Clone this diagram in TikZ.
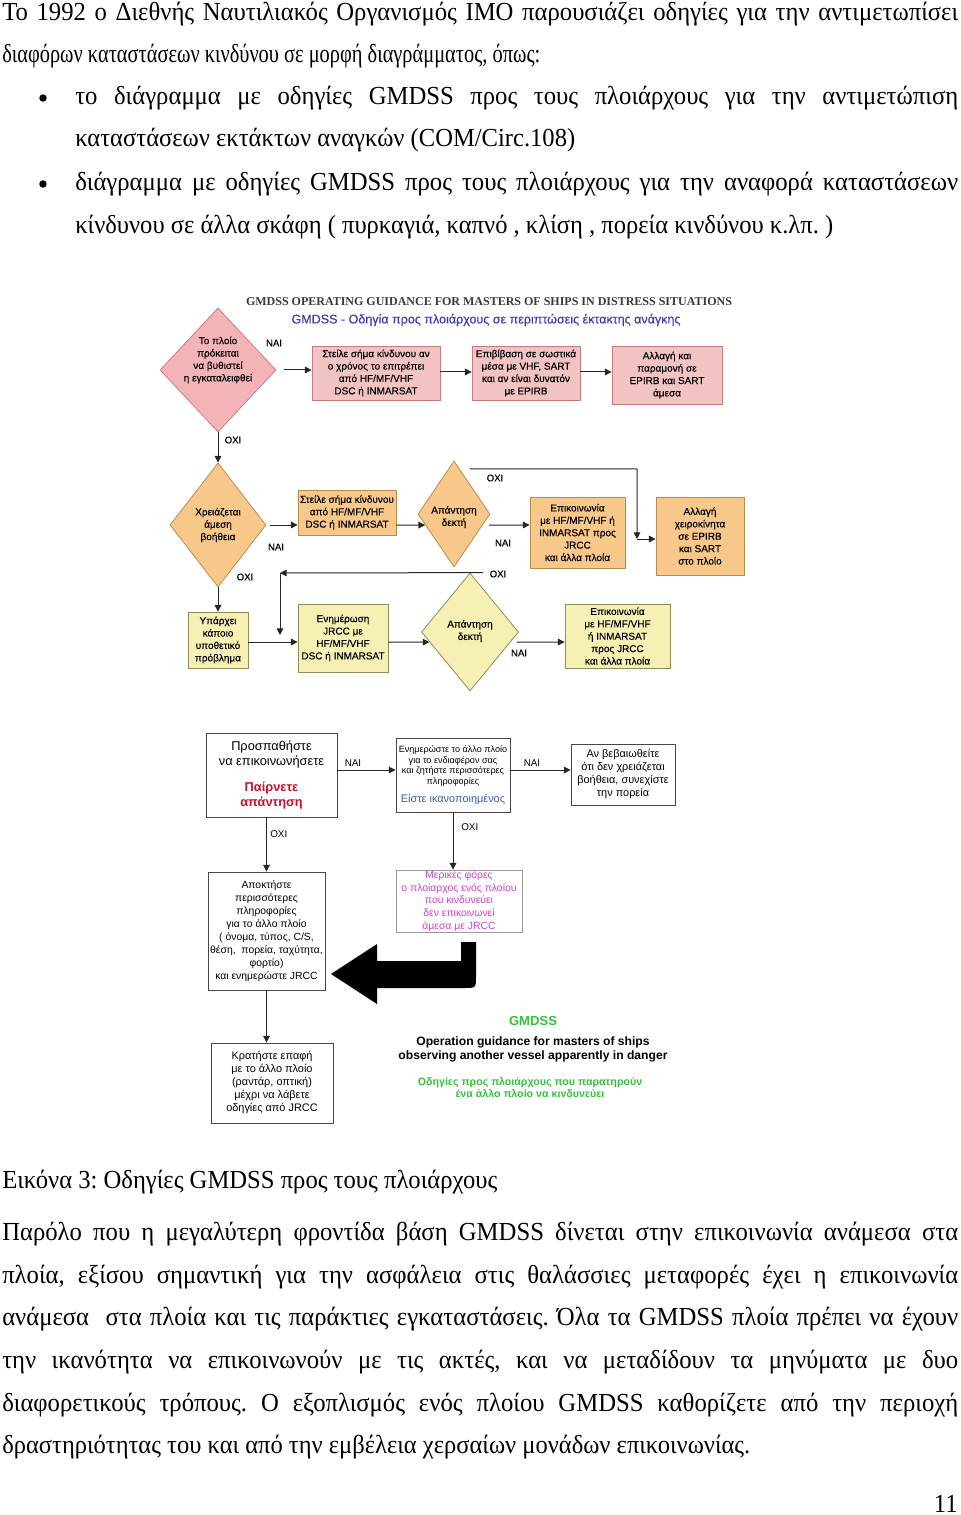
\documentclass[tikz,border=0pt]{standalone}
\usepackage{graphicx}
\usepackage{fontspec}
\setmainfont{Liberation Serif}
\newfontfamily\bodyfont[FakeStretch=0.95]{Liberation Serif}
\newfontfamily\dsans{Liberation Sans}
\newfontfamily\dsansm[FakeBold=0.35]{Liberation Sans}
\newfontfamily\dserif{Liberation Serif}
\usetikzlibrary{shapes.geometric,arrows.meta,calc}
\definecolor{pkd}{HTML}{F4B3B6}
\definecolor{pkb}{HTML}{F2C3C3}
\definecolor{pkl}{HTML}{C97C7C}
\definecolor{ord}{HTML}{F8C78A}
\definecolor{orl}{HTML}{B98C4E}
\definecolor{yld}{HTML}{F6F0B5}
\definecolor{yll}{HTML}{8F8C5A}
\definecolor{ttl}{HTML}{3A3A3A}
\definecolor{sub}{HTML}{3C3CB8}
\definecolor{pred}{HTML}{C8102E}
\definecolor{pblue}{HTML}{3A5BA8}
\definecolor{pmag}{HTML}{D23CD6}
\definecolor{pgreen}{HTML}{35C23A}
\definecolor{lin}{HTML}{262626}
\newcommand\jl[2]{\makebox[#1][s]{#2}}
\newcommand\rz[2]{\resizebox{#1}{\height}{#2}}
\newcommand\rb[1]{\textcolor{pred}{\bfseries #1}}
\frenchspacing
\begin{document}
\begin{tikzpicture}[x=0.75pt,y=-0.75pt,
  body/.style={anchor=base west, inner sep=0, font=\bodyfont\fontsize{19.5pt}{24pt}\selectfont\frenchspacing},
  dot/.style={circle, fill=black, inner sep=0, minimum size=5.6pt},
  dg/.style={font=\dsansm\fontsize{7.5pt}{9.3pt}\selectfont, align=center, inner sep=0},
  lab/.style={font=\dsansm\fontsize{7.2pt}{8pt}\selectfont, inner sep=0},
  blab/.style={font=\dsans\fontsize{7.4pt}{8pt}\selectfont, inner sep=0},
  pbox/.style={dg, draw=pkl, fill=pkb, line width=0.6pt},
  obox/.style={dg, draw=orl, fill=ord, line width=0.6pt},
  ybox/.style={dg, draw=yll, fill=yld, line width=0.6pt},
  pdiam/.style={diamond, draw=pkl, fill=pkd, line width=0.6pt, inner sep=0},
  odiam/.style={diamond, draw=orl, fill=ord, line width=0.6pt, inner sep=0},
  ydiam/.style={diamond, draw=yll, fill=yld, line width=0.6pt, inner sep=0},
  wbox/.style={draw=lin!85, line width=0.7pt, fill=white, align=center, inner sep=0},
  arr/.style={draw=lin, line width=0.75pt, -{Triangle[length=5pt,width=5pt]}},
  ln/.style={draw=lin, line width=0.75pt}]
\useasboundingbox (0,0) rectangle (960,1515);

% ---------- text above ----------
\node[body] (t1) at (2,21) {\jl{717pt}{Το 1992 ο Διεθνής Ναυτιλιακός Οργανισμός IMO παρουσιάζει οδηγίες για την αντιμετωπίσει}};
\node[body] (t2) at (2,63) {\rz{403.5pt}{διαφόρων καταστάσεων κινδύνου σε μορφή διαγράμματος, όπως:}};
\node[dot] (bu1) at (43,98) {};
\node[body] (t3) at (75,105) {\jl{662.25pt}{το διάγραμμα με οδηγίες GMDSS προς τους πλοιάρχους για την αντιμετώπιση}};
\node[body] (t4) at (75,147) {\rz{375pt}{καταστάσεων εκτάκτων αναγκών (COM/Circ.108)}};
\node[dot] (bu2) at (43,184) {};
\node[body] (t5) at (75,191) {\jl{662.25pt}{διάγραμμα με οδηγίες GMDSS προς τους πλοιάρχους για την αναφορά καταστάσεων}};
\node[body] (t6) at (75,234) {\rz{568.5pt}{κίνδυνου σε άλλα σκάφη ( πυρκαγιά, καπνό , κλίση , πορεία κινδύνου κ.λπ. )}};

% ---------- diagram 1 ----------
\node[font=\dserif\bfseries\fontsize{9pt}{10pt}\selectfont, text=ttl, inner sep=0] (ti1) at (489,302) {GMDSS OPERATING GUIDANCE FOR MASTERS OF SHIPS IN DISTRESS SITUATIONS};
\node[font=\dsansm\fontsize{9.4pt}{10pt}\selectfont, text=sub, inner sep=0] (ti2) at (486,320) {GMDSS - Οδηγία προς πλοιάρχους σε περιπτώσεις έκτακτης ανάγκης};

\node[pdiam, minimum width=87pt, minimum height=93pt] (d1) at (218,370) {};
\node[dg] (d1t) at (218,360) {Το πλοίο\\πρόκειται\\να βυθιστεί\\η εγκαταλειφθεί};
\node[pbox, minimum width=96pt, minimum height=40.5pt] (b1) at (376,373) {Στείλε σήμα κίνδυνου αν\\ο χρόνος το επιτρέπει\\από HF/MF/VHF\\DSC ή INMARSAT};
\node[pbox, minimum width=81pt, minimum height=40.5pt] (b2) at (526,373) {Επιβίβαση σε σωστικά\\μέσα με VHF, SART\\και αν είναι δυνατόν\\με EPIRB};
\node[pbox, minimum width=82.5pt, minimum height=43.5pt] (b3) at (667,375) {Αλλαγή και\\παραμονή σε\\EPIRB και SART\\άμεσα};
\coordinate (r1) at (0,372);
\draw[arr] ($(d1.east)+(8,0)$) -- (b1.west |- d1.east);
\draw[arr] (b1.east |- r1) -- (b2.west |- r1);
\draw[arr] (b2.east |- r1) -- (b3.west |- r1);
\node[lab] (n1) at (274,343) {ΝΑΙ};

\node[odiam, minimum width=72pt, minimum height=93pt] (d2) at (218,525) {};
\node[dg] (d2t) at (218,525) {Χρειάζεται\\άμεση\\βοήθεια};
\draw[arr] (d1.south) -- (d2.north);
\node[lab] (o1) at (233,440) {ΟΧΙ};

\node[obox, minimum width=73.5pt, minimum height=33.75pt] (b4) at (347,512.5) {Στείλε σήμα κίνδυνου\\από HF/MF/VHF\\DSC ή INMARSAT};
\node[odiam, minimum width=54pt, minimum height=79.5pt] (d3) at (454,514) {};
\node[dg] (d3t) at (454,517) {Απάντηση\\δεκτή};
\node[obox, minimum width=71.25pt, minimum height=53.25pt] (b5) at (577.5,532.5) {Επικοινωνία\\με HF/MF/VHF ή\\INMARSAT προς\\JRCC\\και άλλα πλοία};
\node[obox, minimum width=66pt, minimum height=58.5pt] (b6) at (700,536) {Αλλαγή\\χειροκίνητα\\σε EPIRB\\και SART\\στο πλοίο};
\draw[arr] ($(d2.east)+(4,0)$) -- (b4.west |- d2.east);
\draw[arr] (b4.east |- d2.east) -- (d3.201);
\draw[arr] ($(d3.-21)+(6,0)$) -- (b5.west |- d2.east);
\node[lab] (n2) at (276,547) {ΝΑΙ};
\node[lab] (n3) at (503,543) {ΝΑΙ};
\coordinate (k1) at (637,469);
\coordinate (k2) at (637,539);
\draw[arr] ($(d3.83)+(10,0)$) -- (k1) -- (k2);
\draw[arr] (k2) -- (b6.west |- k2);
\node[lab] (o2) at (495,478) {ΟΧΙ};
\node[lab] (o3) at (245,577) {ΟΧΙ};

\node[ydiam, minimum width=72.75pt, minimum height=88.5pt] (d4) at (470,632) {};
\node[dg] (d4t) at (470,631) {Απάντηση\\δεκτή};
\node[ybox, minimum width=45pt, minimum height=42pt] (b7) at (218,640) {Υπάρχει\\κάποιο\\υποθετικό\\πρόβλημα};
\node[ybox, minimum width=67.5pt, minimum height=51pt] (b8) at (343,638) {Ενημέρωση\\JRCC με\\HF/MF/VHF\\DSC ή INMARSAT};
\node[ybox, minimum width=78.75pt, minimum height=48pt] (b9) at (617.5,636) {Επικοινωνία\\με HF/MF/VHF\\ή INMARSAT\\προς JRCC\\και άλλα πλοία};
\draw[arr] (d2.south) -- (b7.north);
\coordinate (r3) at (0,642);
\draw[arr] (b7.east |- r3) -- (b8.west |- r3);
\draw[arr] (b8.east |- r3) -- (d4.194);
\draw[arr] ($(d4.-14)+(6,0)$) -- (b9.west |- r3);
\node[lab] (n4) at (519,653) {ΝΑΙ};
\coordinate (k3) at (280,573);
\coordinate (k4) at (280,635);
\draw[arr] ($(d4.north)+(13,0)$) -- (k3);
\draw[arr] (k3) -- (k4);
\node[lab] (o4) at (498,574) {ΟΧΙ};

% ---------- diagram 2 ----------
\node[wbox, minimum width=98.25pt, minimum height=63pt, font=\dsans\fontsize{9.6pt}{11.2pt}\selectfont] (A) at (271.5,775) {Προσπαθήστε\\να επικοινωνήσετε\\[9pt]\rb{Παίρνετε}\\\rb{απάντηση}};
\node[wbox, minimum width=85.5pt, minimum height=55.5pt, font=\dsans\fontsize{6.8pt}{8.2pt}\selectfont] (B) at (453,775) {Ενημερώστε το άλλο πλοίο\\για το ενδιαφέρον σας\\και ζητήστε περισσότερες\\πληροφορίες\\[5pt]\textcolor{pblue}{\fontsize{8.2pt}{9pt}\selectfont Είστε ικανοποιημένος}};
\node[wbox, minimum width=78pt, minimum height=45.75pt, font=\dsans\fontsize{8.2pt}{9.75pt}\selectfont] (C) at (623,774.5) {Αν βεβαιωθείτε\\ότι δεν χρειάζεται\\βοήθεια, συνεχίστε\\την πορεία};
\coordinate (r4) at (0,770);
\draw[arr] (A.east |- r4) -- (B.west |- r4);
\draw[arr] (B.east |- r4) -- (C.west |- r4);
\node[blab] (n5) at (353,763) {ΝΑΙ};
\node[blab] (n6) at (532,763) {ΝΑΙ};

\node[wbox, minimum width=87.75pt, minimum height=88.5pt, font=\dsans\fontsize{7.8pt}{9.7pt}\selectfont] (D) at (266.5,931) {Αποκτήστε\\περισσότερες\\πληροφορίες\\για το άλλο πλοίο\\( όνομα, τύπος, C/S,\\θέση,\ \ πορεία, ταχύτητα,\\φορτίο)\\και ενημερώστε JRCC};
\node[draw=black!40, line width=0.6pt, fill=white, align=center, inner sep=0, minimum width=94.5pt, minimum height=46.5pt, text=pmag, font=\dsans\fontsize{7.8pt}{9.6pt}\selectfont] (E) at (459,901) {Μερικές φόρες\\ο πλοίαρχος ενός πλοίου\\που κινδυνεύει\\δεν επικοινωνεί\\άμεσα με JRCC};
\draw[arr] (A.south -| D.north) -- (D.north);
\draw[arr] (B.south) -- (B.south |- E.north);
\node[blab, anchor=west] (o5) at (270,834) {ΟΧΙ};
\node[blab, anchor=west] (o6) at (461,827) {ΟΧΙ};

\fill[black] (461,942) -- (476,942) -- (476,976) .. controls (476,988) .. (464,988) -- (377,988) -- (377,1004) -- (331,974) -- (377,944) -- (377,961) -- (461,961) -- cycle;

\node[wbox, minimum width=91.5pt, minimum height=60pt, font=\dsans\fontsize{8.2pt}{9.75pt}\selectfont] (F) at (272,1083) {Κρατήστε επαφή\\με το άλλο πλοίο\\(ραντάρ, οπτική)\\μέχρι να λάβετε\\οδηγίες από JRCC};
\draw[arr] (D.south) -- (D.south |- F.north);

\node[font=\dsans\bfseries\fontsize{9.8pt}{11pt}\selectfont, text=pgreen, inner sep=0] (g1) at (533,1021) {GMDSS};
\node[font=\dsans\bfseries\fontsize{9.1pt}{10.5pt}\selectfont, align=center, inner sep=0] (g2) at (533,1049) {Operation guidance for masters of ships\\observing another vessel apparently in danger};
\node[font=\dsans\bfseries\fontsize{8pt}{9.6pt}\selectfont, text=pgreen, align=center, inner sep=0] (g3) at (530,1087.5) {Οδηγίες προς πλοιάρχους που παρατηρούν\\ένα άλλο πλοίο να κινδυνεύει};

% ---------- text below ----------
\node[body] (c1) at (2,1188) {\rz{371.25pt}{Εικόνα 3: Οδηγίες GMDSS προς τους πλοιάρχους}};
\node[body] (p1) at (2,1240) {\jl{717pt}{Παρόλο που η μεγαλύτερη φροντίδα βάση GMDSS δίνεται στην επικοινωνία ανάμεσα στα}};
\node[body] (p2) at (2,1283) {\jl{717pt}{πλοία, εξίσου σημαντική για την ασφάλεια στις θαλάσσιες μεταφορές έχει η επικοινωνία}};
\node[body] (p3) at (2,1325) {\jl{717pt}{ανάμεσα\ \ στα πλοία και τις παράκτιες εγκαταστάσεις. Όλα τα GMDSS πλοία πρέπει να έχουν}};
\node[body] (p4) at (2,1368) {\jl{717pt}{την ικανότητα να επικοινωνούν με τις ακτές, και να μεταδίδουν τα μηνύματα με δυο}};
\node[body] (p5) at (2,1411) {\jl{717pt}{διαφορετικούς τρόπους. Ο εξοπλισμός ενός πλοίου GMDSS καθορίζετε από την περιοχή}};
\node[body] (p6) at (2,1453) {\rz{561pt}{δραστηριότητας του και από την εμβέλεια χερσαίων μονάδων επικοινωνίας.}};
\node[body, anchor=base east] (pg) at (958,1512) {11};
\end{tikzpicture}
\end{document}
